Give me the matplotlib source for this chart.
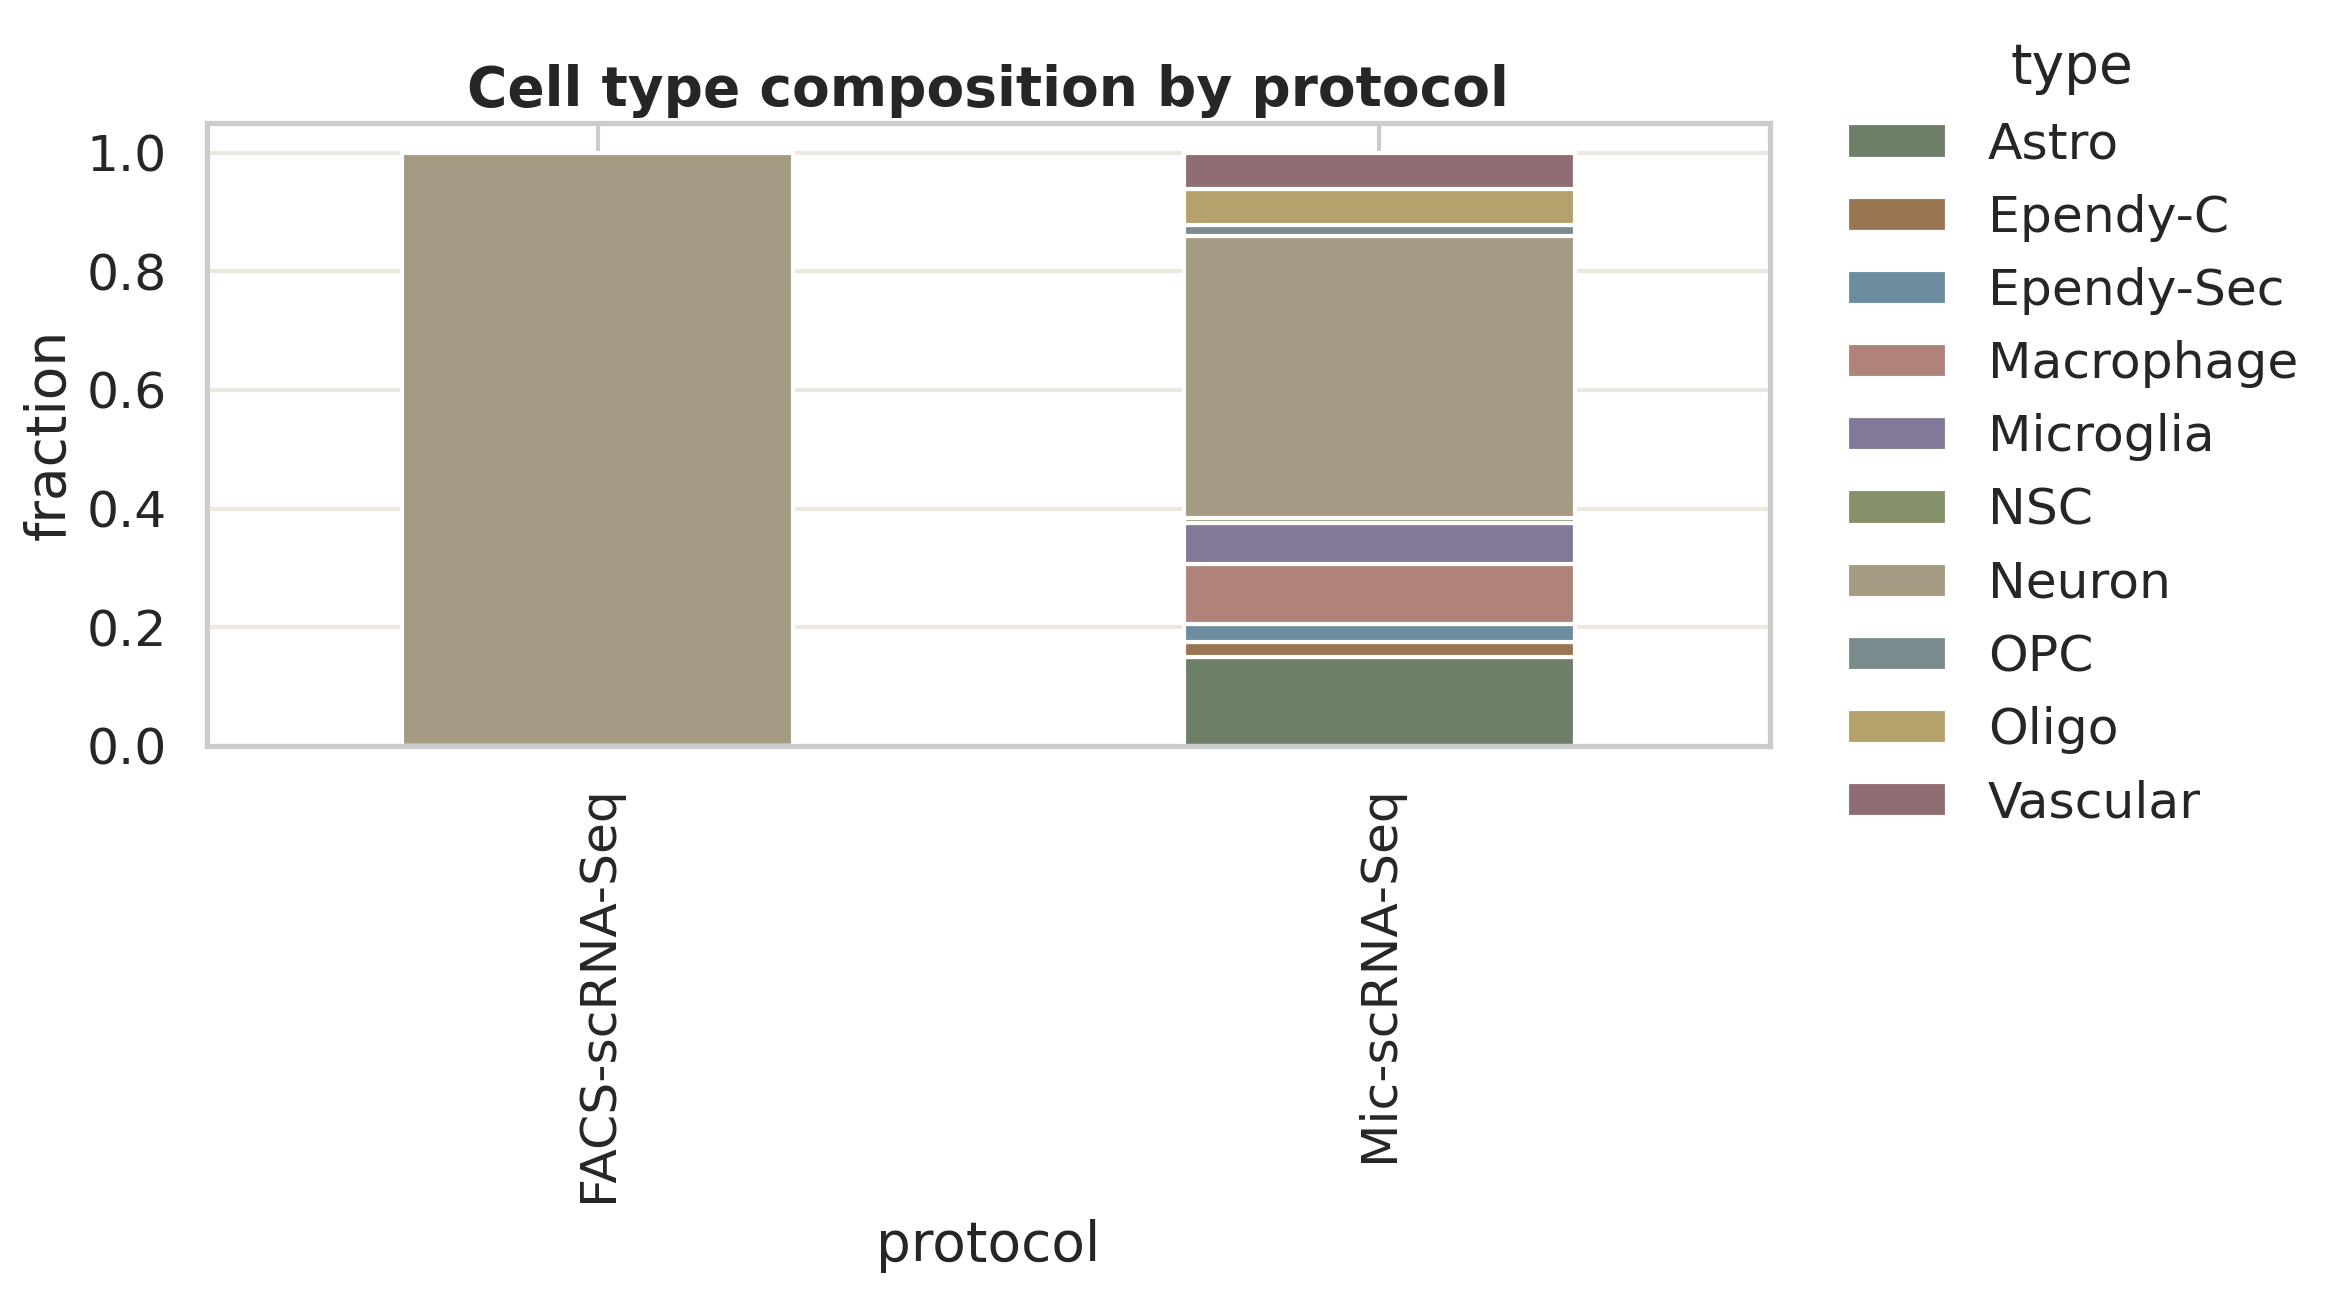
import matplotlib
matplotlib.use("Agg")
import matplotlib.pyplot as plt
import pandas as pd
import seaborn as sns

# fractions of each cell type per protocol
protocols = ["FACS-scRNA-Seq", "Mic-scRNA-Seq"]
cell_types = ["Astro", "Ependy-C", "Ependy-Sec", "Macrophage", "Microglia",
              "NSC", "Neuron", "OPC", "Oligo", "Vascular"]
facs_frac = [0.0, 0.0, 0.0, 0.0, 0.0, 0.0, 1.0, 0.0, 0.0, 0.0]
mic_frac = [0.150, 0.025, 0.031, 0.101, 0.068, 0.010, 0.474, 0.019, 0.061, 0.061]

colors = ["#6f7f67", "#9a7551", "#6e8c9f", "#b0837a", "#827899",
          "#85916b", "#a59a82", "#7a8b8d", "#b5a16c", "#8e6e73"]

sns.set_theme(style="whitegrid", context="notebook", font_scale=1.1)

df = pd.DataFrame([facs_frac, mic_frac], index=protocols, columns=cell_types)
df.index.name = "protocol"
df.columns.name = "type"

fig = plt.figure(figsize=(2339 / 300, 1289 / 300), dpi=300)
ax = fig.add_axes([0.0884, 0.4213, 0.6683, 0.4833])

df.plot(kind="bar", stacked=True, color=colors, edgecolor="white",
        linewidth=1, ax=ax)

ax.yaxis.grid(True, color="#ece8e0", linewidth=1)
ax.xaxis.grid(True, color="#cccccc", linewidth=1)
ax.set_axisbelow(True)
for s in ax.spines.values():
    s.set_color("#cccccc")
    s.set_linewidth(1.25)

ax.tick_params(axis="both", length=0, pad=9.5)
ax.set_ylabel("fraction", labelpad=2.5)
ax.set_xlabel("protocol")
ax.set_title("Cell type composition by protocol", fontweight="bold", pad=4)

ax.legend(title="type", loc="center left", bbox_to_anchor=(1.02, 0.5),
          frameon=False)

fig.savefig("out.png", dpi=300)
